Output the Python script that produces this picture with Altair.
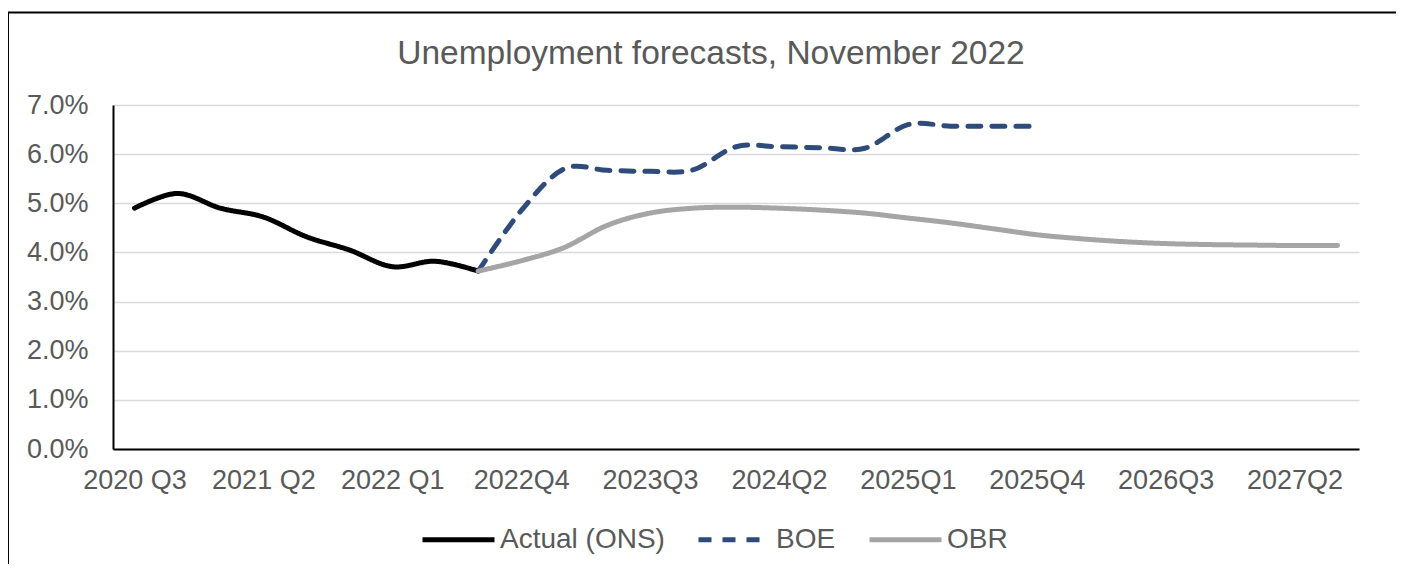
import altair as alt
import pandas as pd

quarters = [
    "2020 Q3", "2020 Q4", "2021 Q1", "2021 Q2", "2021 Q3", "2021 Q4",
    "2022 Q1", "2022 Q2", "2022 Q3", "2022Q4", "2023Q1", "2023Q2",
    "2023Q3", "2023Q4", "2024Q1", "2024Q2", "2024Q3", "2024Q4",
    "2025Q1", "2025Q2", "2025Q3", "2025Q4", "2026Q1", "2026Q2",
    "2026Q3", "2026Q4", "2027Q1", "2027Q2", "2027Q3",
]

actual_quarters = quarters[0:9]
actual_values = [4.9, 5.2, 4.9, 4.72, 4.32, 4.05, 3.71, 3.82, 3.62]

boe_quarters = quarters[8:22]
boe_values = [3.62, 4.85, 5.7, 5.67, 5.65, 5.68, 6.15, 6.15, 6.13, 6.12,
              6.6, 6.57, 6.57, 6.57]

obr_quarters = quarters[8:29]
obr_values = [3.62, 3.83, 4.1, 4.55, 4.8, 4.9, 4.92, 4.9, 4.86, 4.8,
              4.7, 4.6, 4.48, 4.36, 4.28, 4.22, 4.18, 4.16, 4.15, 4.14, 4.14]

series_names = ["Actual (ONS)", "BOE", "OBR"]
series_colors = ["#000000", "#2F4B7C", "#A5A5A5"]
series_dashes = [[1, 0], [13, 11], [1, 0]]

y_ticks = [0, 1, 2, 3, 4, 5, 6, 7]
x_label_values = quarters[::3]

rows = []
for name, qs, vals in [
    (series_names[0], actual_quarters, actual_values),
    (series_names[1], boe_quarters, boe_values),
    (series_names[2], obr_quarters, obr_values),
]:
    for i, (q, v) in enumerate(zip(qs, vals)):
        rows.append({"series": name, "quarter": q, "value": v, "idx": i})
df = pd.DataFrame(rows)

TEXT = "#595959"
FONT = "Liberation Sans"
FS = 27

legend_kw = dict(
    title=None, orient="none", direction="horizontal",
    legendX=307, legendY=396, symbolType="stroke", symbolSize=5184,
    symbolStrokeWidth=5, labelFontSize=28, labelColor=TEXT, labelFont=FONT,
    labelOffset=3, columnPadding=23, labelLimit=400,
)

lines = alt.Chart(df).mark_line(
    interpolate="cardinal", strokeWidth=5, strokeCap="round", strokeJoin="round"
).encode(
    x=alt.X(
        "quarter:O",
        scale=alt.Scale(domain=quarters, type="point", padding=0.5),
        axis=alt.Axis(
            title=None, values=x_label_values, labelAngle=0, labelOverlap=False,
            tickSize=0, labelPadding=18, labelFontSize=FS, labelColor=TEXT,
            labelFont=FONT, domainColor="#000000", domainWidth=2, grid=False,
        ),
    ),
    y=alt.Y(
        "value:Q",
        scale=alt.Scale(domain=[0, 7], nice=False),
        axis=alt.Axis(
            title=None, values=y_ticks, labelExpr="format(datum.value, '.1f') + '%'",
            tickSize=0, labelPadding=25, labelFontSize=FS, labelColor=TEXT,
            labelFont=FONT, domainColor="#000000", domainWidth=2,
            gridColor="#D9D9D9", gridWidth=1.5,
        ),
    ),
    color=alt.Color(
        "series:N",
        scale=alt.Scale(domain=series_names, range=series_colors),
        legend=alt.Legend(**legend_kw),
    ),
    strokeDash=alt.StrokeDash(
        "series:N",
        scale=alt.Scale(domain=series_names, range=series_dashes),
        legend=alt.Legend(**legend_kw),
    ),
    order="idx:Q",
)

frame_df = pd.DataFrame({"k": [0]})
frame_left = alt.Chart(frame_df).mark_rule(color="#000000", strokeWidth=2).encode(
    x=alt.value(-105), y=alt.value(-92.5), y2=alt.value(470)
)
frame_top = alt.Chart(frame_df).mark_rule(color="#000000", strokeWidth=2).encode(
    x=alt.value(-106), x2=alt.value(1300), y=alt.value(-92.5)
)

chart = alt.layer(lines, frame_left, frame_top).properties(
    width=1246,
    height=344,
    autosize=alt.AutoSizeParams(type="none"),
    padding={"left": 105, "top": 97, "right": 37, "bottom": 115},
    title=alt.TitleParams(
        text="Unemployment forecasts, November 2022", fontSize=33.5, color=TEXT,
        font=FONT, fontWeight="normal", anchor="middle", dx=-25, offset=-85.5,
        baseline="alphabetic",
    ),
).configure(font=FONT).configure_view(strokeWidth=0)

chart.save("out.html", embed_options={"renderer": "svg", "actions": False})
